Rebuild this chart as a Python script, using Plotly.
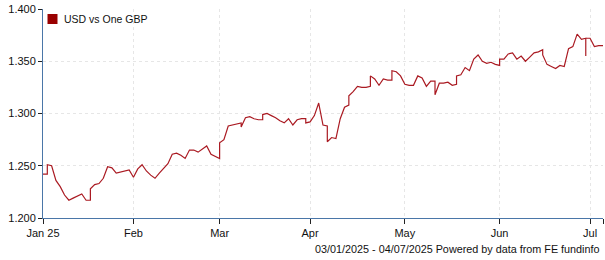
import pandas as pd
import plotly.graph_objects as go

# Trading days (weekdays) from 03/01/2025 to 04/07/2025
dates = pd.bdate_range("2025-01-03", "2025-07-04").strftime("%Y-%m-%d").tolist()

# USD per one GBP; days with two/three readings show vertical moves
day_values = [
    [1.242], [1.242, 1.251], [1.250], [1.236], [1.230], [1.222], [1.217], [1.219], [1.221], [1.223],
    [1.217], [1.217, 1.228], [1.232], [1.233], [1.238], [1.249], [1.248], [1.243], [1.244], [1.245],
    [1.246], [1.239], [1.247], [1.251], [1.245], [1.241], [1.238], [1.243], [1.248], [1.252],
    [1.261], [1.262], [1.260], [1.257], [1.265], [1.265], [1.263], [1.266], [1.269], [1.261],
    [1.259], [1.257, 1.272], [1.275], [1.288], [1.289], [1.290], [1.291, 1.287], [1.296], [1.297], [1.295],
    [1.294], [1.294, 1.299], [1.300], [1.298], [1.296], [1.293], [1.291], [1.295], [1.289], [1.294],
    [1.295], [1.295, 1.291], [1.292], [1.298], [1.310], [1.289], [1.288, 1.273], [1.277], [1.276], [1.295],
    [1.306], [1.308, 1.317], [1.321], [1.326], [1.325], [1.325], [1.326, 1.336], [1.333], [1.327], [1.333],
    [1.332], [1.332, 1.341], [1.340], [1.336], [1.328], [1.327], [1.327], [1.336], [1.334], [1.326],
    [1.331], [1.331, 1.318], [1.329], [1.329], [1.330], [1.327], [1.328, 1.336], [1.337], [1.344], [1.341],
    [1.352], [1.356], [1.350], [1.348], [1.349], [1.347], [1.346, 1.352], [1.352], [1.357], [1.358],
    [1.352], [1.355], [1.350], [1.354], [1.358], [1.359], [1.361, 1.356], [1.347], [1.345], [1.343],
    [1.346], [1.345], [1.362], [1.364], [1.376], [1.371], [1.372, 1.355, 1.372], [1.372], [1.364], [1.365],
    [1.365],
]

tick_dates = ["2025-01-03", "2025-02-03", "2025-03-03", "2025-04-01", "2025-05-01",
              "2025-06-02", "2025-07-01", "2025-07-04"]
tick_labels = ["Jan 25", "Feb", "Mar", "Apr", "May", "Jun", "Jul", ""]
y_ticks = [1.200, 1.250, 1.300, 1.350, 1.400]

series_name = "USD vs One GBP"
footer = "03/01/2025 - 04/07/2025 Powered by data from FE fundinfo"

xs, ys = [], []
for d, vals in zip(dates, day_values):
    for v in vals:
        xs.append(d)
        ys.append(v)

FONT = "Liberation Sans, Arial, sans-serif"
AXIS_COLOR = "#4a76a8"
LINE_COLOR = "#aa1a22"
GRID_COLOR = "#e6e6e6"

fig = go.Figure()
fig.add_trace(go.Scatter(x=xs, y=ys, mode="lines", name=series_name,
                         line=dict(color=LINE_COLOR, width=1.2), showlegend=False))

fig.update_layout(
    width=605, height=260,
    margin=dict(l=43, r=2, t=9, b=42),
    paper_bgcolor="white", plot_bgcolor="white",
    font=dict(family=FONT, size=11, color="#111"),
    xaxis=dict(
        type="category", categoryorder="array", categoryarray=dates,
        range=[0, len(dates) - 1],
        tickmode="array", tickvals=tick_dates, ticktext=tick_labels,
        ticks="outside", ticklen=5, tickcolor="#222",
        showline=True, linecolor=AXIS_COLOR, linewidth=1,
        showgrid=True, gridcolor=GRID_COLOR, griddash="dot", gridwidth=1,
        zeroline=False, tickfont=dict(size=11, color="#111"),
    ),
    yaxis=dict(
        range=[1.2, 1.4], tickmode="array", tickvals=y_ticks,
        tickformat=".3f",
        ticks="outside", ticklen=4, tickcolor="#222",
        showline=True, linecolor=AXIS_COLOR, linewidth=1,
        showgrid=True, gridcolor=GRID_COLOR, griddash="dot", gridwidth=1,
        zeroline=False, tickfont=dict(size=11, color="#111"),
    ),
    shapes=[dict(type="rect", xref="paper", yref="paper",
                 xsizemode="pixel", ysizemode="pixel", xanchor=0, yanchor=1,
                 x0=4.5, x1=14.5, y0=-5, y1=-15,
                 fillcolor="#990000", line=dict(width=0))],
    annotations=[
        dict(text=series_name, xref="paper", yref="paper", x=0, y=1,
             xanchor="left", yanchor="middle", xshift=19, yshift=-10,
             showarrow=False, font=dict(size=10.5, color="#111", family=FONT)),
        dict(text=footer, xref="paper", yref="paper", x=1, y=0,
             xanchor="right", yanchor="middle", xshift=-1.5, yshift=-31,
             showarrow=False, font=dict(size=10.8, color="#111", family=FONT)),
    ],
)

fig.write_html("out.html")
